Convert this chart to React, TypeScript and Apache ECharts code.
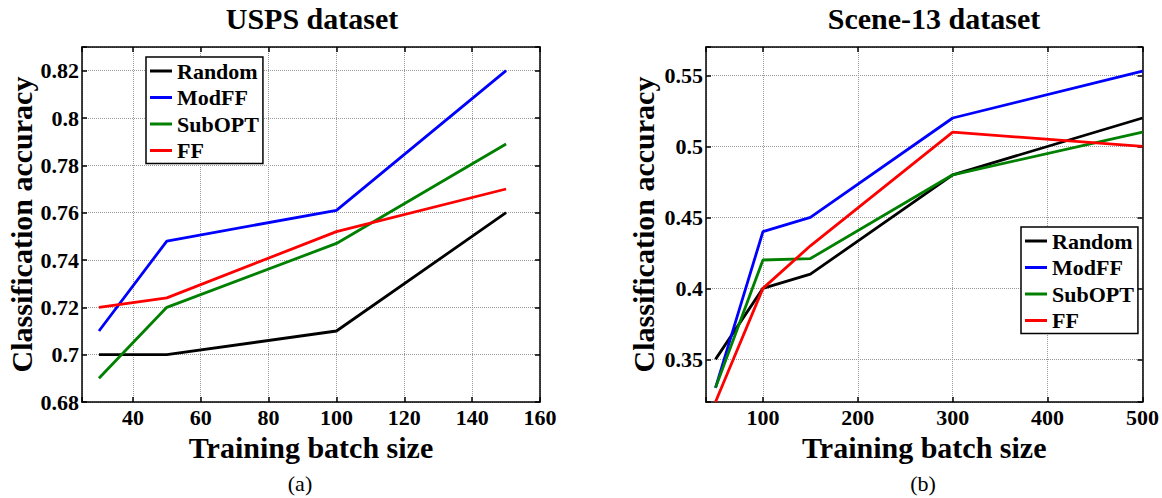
import React, { useEffect, useRef } from "react";
import * as echarts from "echarts";

const seriesNames = ["Random", "ModFF", "SubOPT", "FF"];
const seriesColors = ["#000000", "#0000ff", "#008000", "#ff0000"];

const uspsBatch = [30, 50, 100, 150];
const uspsRandom = [0.7, 0.7, 0.71, 0.76];
const uspsModFF = [0.71, 0.748, 0.761, 0.82];
const uspsSubOPT = [0.69, 0.72, 0.747, 0.789];
const uspsFF = [0.72, 0.724, 0.752, 0.77];

const sceneBatch = [50, 100, 150, 300, 500];
const sceneRandom = [0.35, 0.4, 0.41, 0.48, 0.52];
const sceneModFF = [0.33, 0.44, 0.45, 0.52, 0.553];
const sceneSubOPT = [0.33, 0.42, 0.421, 0.48, 0.51];
const sceneFF = [0.32, 0.4, 0.43, 0.51, 0.5];

const uspsXTicks = [40, 60, 80, 100, 120, 140, 160];
const uspsYTicks = [0.68, 0.7, 0.72, 0.74, 0.76, 0.78, 0.8, 0.82];
const sceneXTicks = [100, 200, 300, 400, 500];
const sceneYTicks = [0.35, 0.4, 0.45, 0.5, 0.55];

const FONT = "Liberation Serif";

function fmt(ticks: number[]) {
  return (v: number) => {
    const hit = ticks.find((t) => Math.abs(t - v) < 1e-6);
    return hit === undefined ? "" : String(+hit.toFixed(2));
  };
}

function zip(xs: number[], ys: number[]) {
  return xs.map((x, i) => [x, ys[i]]);
}

export default function App() {
  const ref = useRef<HTMLDivElement>(null);
  useEffect(() => {
    document.body.style.margin = "0";
    if (!ref.current) return;
    const chart = echarts.init(ref.current, undefined, { renderer: "svg" });

    const axisLabelStyle = {
      color: "#000",
      fontFamily: FONT,
      fontWeight: "bold" as const,
      fontSize: 22,
    };
    const lineStyleAxis = { color: "#000", width: 1.5 };
    const splitLine = {
      show: true,
      lineStyle: { color: "#999", width: 1, type: "dotted" as const },
    };

    const mainX = (gridIndex: number, min: number, max: number, split: number, ticks: number[]) => ({
      type: "value",
      gridIndex,
      min,
      max,
      splitNumber: split,
      position: "bottom",
      name: "Training batch size",
      nameLocation: "middle",
      nameGap: 22,
      nameTextStyle: { color: "#000", fontFamily: FONT, fontWeight: "bold", fontSize: 30 },
      axisLine: { show: true, lineStyle: lineStyleAxis },
      axisTick: { show: true, inside: true, length: 5, lineStyle: lineStyleAxis },
      axisLabel: { ...axisLabelStyle, margin: 4, formatter: fmt(ticks), showMinLabel: true, showMaxLabel: true },
      splitLine,
    });
    const topX = (gridIndex: number, min: number, max: number, split: number) => ({
      type: "value",
      gridIndex,
      min,
      max,
      splitNumber: split,
      position: "top",
      axisLine: { show: true, lineStyle: lineStyleAxis },
      axisTick: { show: true, inside: true, length: 5, lineStyle: lineStyleAxis },
      axisLabel: { show: false },
      splitLine: { show: false },
    });
    const mainY = (gridIndex: number, min: number, max: number, split: number, ticks: number[], gap: number) => ({
      type: "value",
      gridIndex,
      min,
      max,
      splitNumber: split,
      position: "left",
      name: "Classification accuracy",
      nameLocation: "middle",
      nameGap: gap,
      nameTextStyle: { color: "#000", fontFamily: FONT, fontWeight: "bold", fontSize: 30 },
      axisLine: { show: true, lineStyle: lineStyleAxis },
      axisTick: { show: true, inside: true, length: 5, lineStyle: lineStyleAxis },
      axisLabel: { ...axisLabelStyle, margin: 3, formatter: fmt(ticks), showMinLabel: true, showMaxLabel: true },
      splitLine,
    });
    const rightY = (gridIndex: number, min: number, max: number, split: number) => ({
      type: "value",
      gridIndex,
      min,
      max,
      splitNumber: split,
      position: "right",
      axisLine: { show: true, lineStyle: lineStyleAxis },
      axisTick: { show: true, inside: true, length: 5, lineStyle: lineStyleAxis },
      axisLabel: { show: false },
      splitLine: { show: false },
    });

    const uspsData = [uspsRandom, uspsModFF, uspsSubOPT, uspsFF];
    const sceneData = [sceneRandom, sceneModFF, sceneSubOPT, sceneFF];

    const series: any[] = [];
    seriesNames.forEach((name, i) => {
      series.push({
        type: "line",
        name,
        xAxisIndex: 0,
        yAxisIndex: 0,
        data: zip(uspsBatch, uspsData[i]),
        showSymbol: false,
        symbol: "none",
        lineStyle: { color: seriesColors[i], width: 2.8 },
        itemStyle: { color: seriesColors[i] },
      });
    });
    seriesNames.forEach((name, i) => {
      series.push({
        type: "line",
        name,
        xAxisIndex: 2,
        yAxisIndex: 2,
        data: zip(sceneBatch, sceneData[i]),
        showSymbol: false,
        symbol: "none",
        lineStyle: { color: seriesColors[i], width: 2.8 },
        itemStyle: { color: seriesColors[i] },
      });
    });

    const legendBase = {
      orient: "vertical",
      icon: "rect",
      itemWidth: 22,
      itemHeight: 3,
      itemGap: 4.5,
      padding: [3, 4, 2, 4],
      borderColor: "#000",
      borderWidth: 1.5,
      backgroundColor: "#fff",
      selectedMode: false,
      data: seriesNames,
      textStyle: {
        color: "#000",
        fontFamily: FONT,
        fontWeight: "bold",
        fontSize: 22,
        lineHeight: 22,
      },
    };

    chart.setOption({
      animation: false,
      backgroundColor: "#fff",
      textStyle: { fontFamily: FONT },
      title: [
        {
          text: "USPS dataset",
          left: 312,
          top: 3,
          textAlign: "center",
          padding: 0,
          textStyle: { color: "#000", fontFamily: FONT, fontWeight: "bold", fontSize: 30 },
        },
        {
          text: "Scene-13 dataset",
          left: 934,
          top: 3,
          textAlign: "center",
          padding: 0,
          textStyle: { color: "#000", fontFamily: FONT, fontWeight: "bold", fontSize: 30 },
        },
      ],
      grid: [
        { left: 82, top: 47, width: 458, height: 355 },
        { left: 706, top: 47, width: 438, height: 355 },
      ],
      xAxis: [
        mainX(0, 25, 160, 7, uspsXTicks),
        topX(0, 25, 160, 7),
        mainX(1, 40, 500, 5, sceneXTicks),
        topX(1, 40, 500, 5),
      ],
      yAxis: [
        mainY(0, 0.68, 0.83, 7, uspsYTicks, 44),
        rightY(0, 0.68, 0.83, 7),
        mainY(1, 0.32, 0.57, 5, sceneYTicks, 48),
        rightY(1, 0.32, 0.57, 5),
      ],
      legend: [
        { ...legendBase, left: 146, top: 57 },
        { ...legendBase, left: 1021, top: 227 },
      ],
      graphic: [
        {
          type: "text",
          x: 300,
          y: 483,
          style: {
            text: "(a)",
            font: `22px ${FONT}`,
            fill: "#000",
            textAlign: "center",
            textVerticalAlign: "middle",
          },
        },
        {
          type: "text",
          x: 923,
          y: 483,
          style: {
            text: "(b)",
            font: `22px ${FONT}`,
            fill: "#000",
            textAlign: "center",
            textVerticalAlign: "middle",
          },
        },
      ],
      series,
    });
    return () => chart.dispose();
  }, []);
  return <div ref={ref} style={{ width: 1162, height: 498 }} />;
}
